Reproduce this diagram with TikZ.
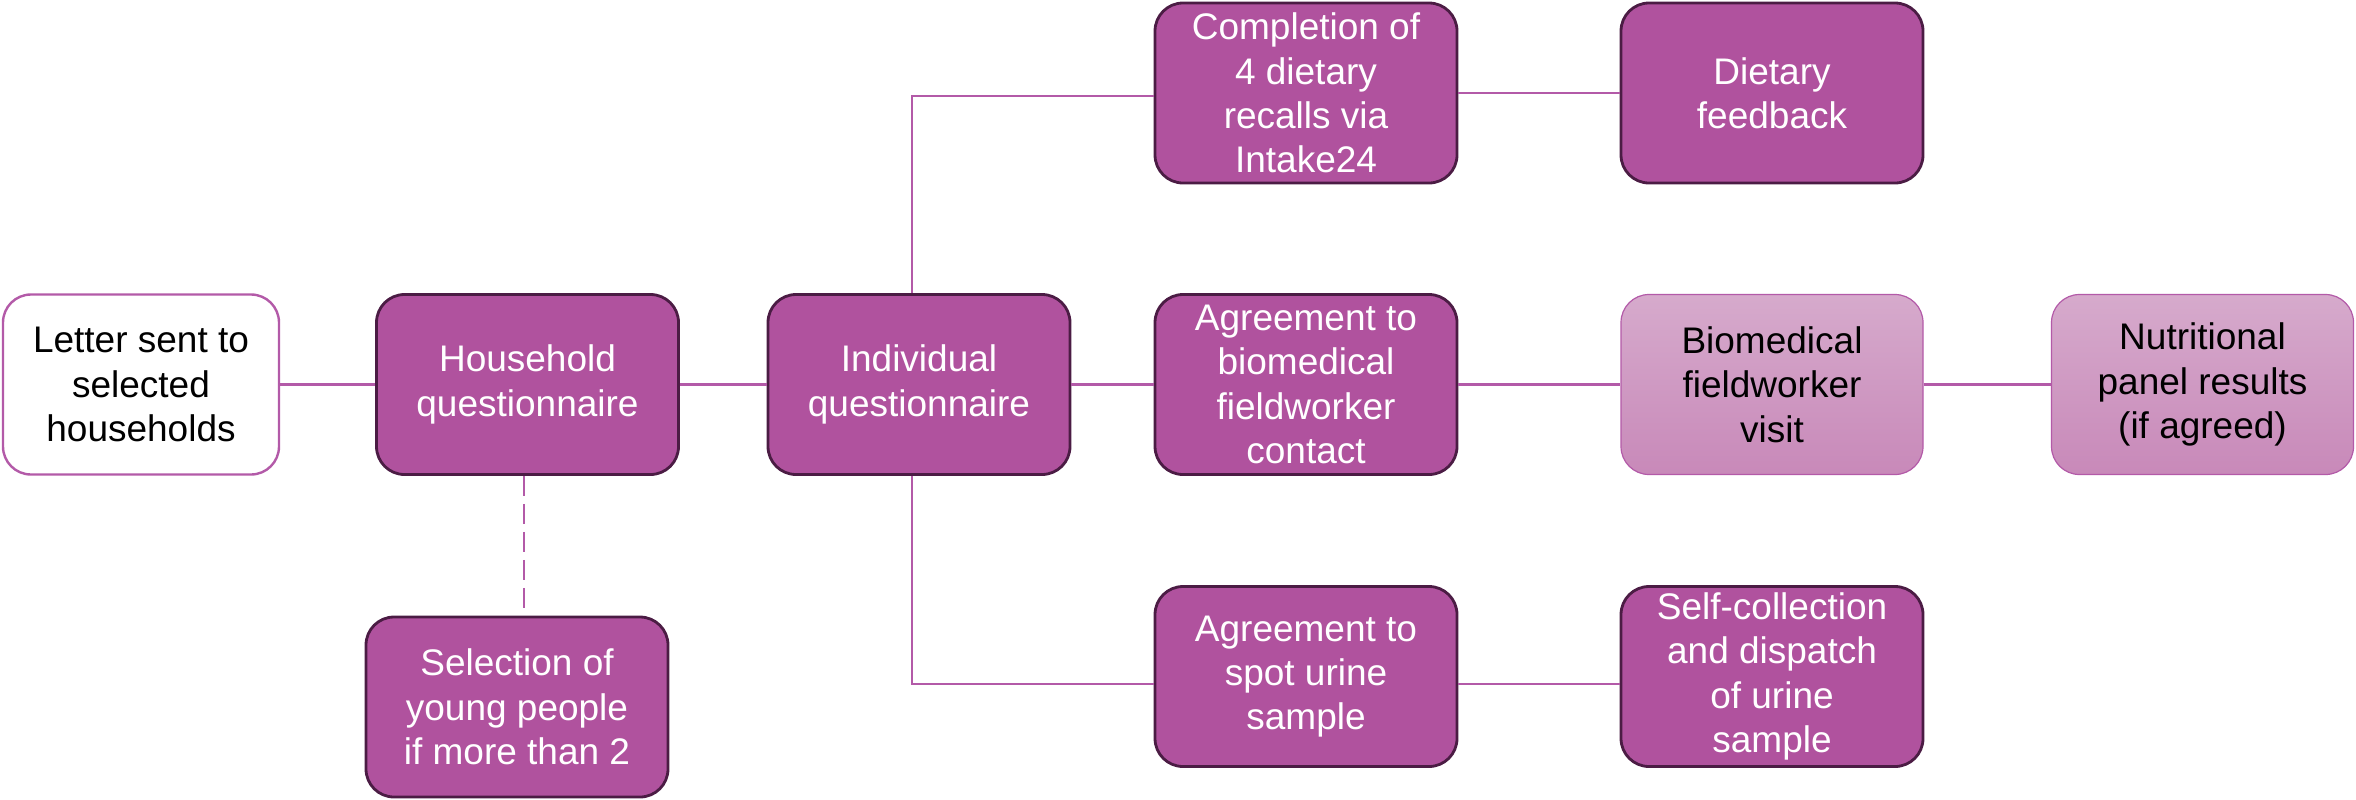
\documentclass[tikz,border=0pt]{standalone}
\usepackage{fontspec}
\setmainfont{Liberation Sans}
\definecolor{pfill}{HTML}{B0529E}
\definecolor{pdark}{HTML}{4B1C44}
\definecolor{pline}{HTML}{B35AA8}
\definecolor{ltop}{HTML}{D6AACC}
\definecolor{lbot}{HTML}{C889B9}
\begin{document}
\begin{tikzpicture}[x=0.5pt,y=-0.5pt,
  base/.style={rounded corners=14pt, align=center, inner sep=0pt,
    font=\fontsize{18.5}{22.2}\selectfont, minimum width=151pt, minimum height=90pt},
  darkbox/.style={base, fill=pfill, draw=pdark, line width=1.4pt, text=white},
  whitebox/.style={base, fill=white, draw=pline, line width=1.2pt, text=black},
  lightbox/.style={base, top color=ltop, bottom color=lbot, draw=pline, line width=0.6pt, text=black},
  link/.style={draw=pline, line width=1.3pt},
  dlink/.style={draw=pline, line width=1.3pt, dash pattern=on 10pt off 4pt}]
\useasboundingbox (0,0) rectangle (2356,799);
\node[whitebox, minimum width=138pt] (letter) at (141,384.5) {Letter sent to\\selected\\households};
\node[darkbox] (house) at (527.5,384.5) {Household\\questionnaire};
\node[darkbox] (indiv) at (919,384.5) {Individual\\questionnaire};
\node[darkbox] (compl) at (1306,93) {Completion of\\4 dietary\\recalls via\\Intake24};
\node[darkbox] (dfeed) at (1772,93) {Dietary\\feedback};
\node[darkbox] (agbio) at (1306,384.5) {Agreement to\\biomedical\\fieldworker\\contact};
\node[lightbox] (visit) at (1772,384.5) {Biomedical\\fieldworker\\visit};
\node[lightbox] (nutri) at (2202.5,384.5) {Nutritional\\panel results\\(if agreed)};
\node[darkbox] (select) at (517,707) {Selection of\\young people\\if more than 2};
\node[darkbox] (urine) at (1306,676.5) {Agreement to\\spot urine\\sample};
\node[darkbox] (selfc) at (1772,676.5) {Self-collection\\and dispatch\\of urine\\sample};
\coordinate (tup) at (912,96);
\coordinate (tdn) at (912,684);
\coordinate (dash) at (524,0);
\draw[link] (letter.east) -- (house.west);
\draw[link] (house.east) -- (indiv.west);
\draw[link] (indiv.east) -- (agbio.west);
\draw[link] (agbio.east) -- (visit.west);
\draw[link] (visit.east) -- (nutri.west);
\draw[link] (compl.east) -- (dfeed.west);
\draw[link] (indiv.north -| tup) -- (tup) -- (tup -| compl.west);
\draw[link] (indiv.south -| tdn) -- (tdn) -- (tdn -| urine.west);
\draw[link] (tdn -| urine.east) -- (tdn -| selfc.west);
\draw[dlink] (house.south -| dash) -- (select.north -| dash);
\end{tikzpicture}
\end{document}
